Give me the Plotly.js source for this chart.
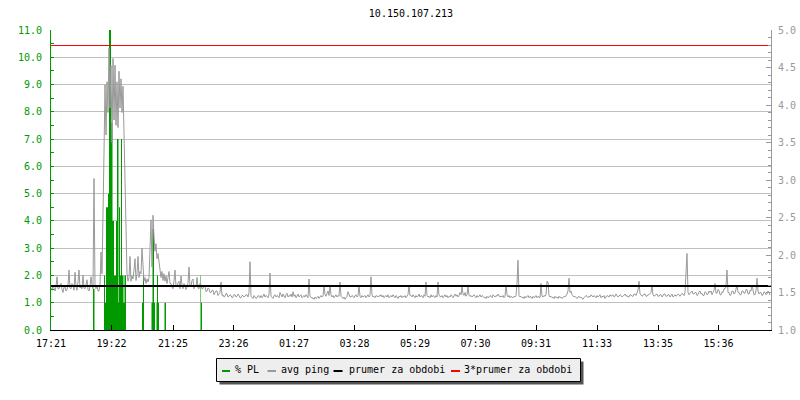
<!DOCTYPE html>
<html>
<head>
<meta charset="utf-8">
<script src="https://cdn.plot.ly/plotly-3.0.1.min.js"></script>
<style>html,body{margin:0;padding:0;background:#fff;}#chart{width:800px;height:400px;}</style>
</head>
<body>
<div id="chart"></div>
<script>
// ---- DATA ----
const chartTitle = '10.150.107.213';
// time axis: minutes after 17:21
const tickMinutes = [0, 121, 244, 365, 486, 607, 728, 849, 970, 1092, 1214, 1335];
const tickLabels  = ['17:21','19:22','21:25','23:26','01:27','03:28','05:29','07:30','09:31','11:33','13:35','15:36'];
const rangeMinutes = [0, 1440];

// avg ping (right axis), one value every 2 minutes starting 17:21, one row per hour
const pingStepMin = 2;
const avgPing = [
  1.56,1.53,1.60,1.57,1.52,1.58,1.71,1.55,1.55,1.60,1.62,1.54,1.50,1.57,1.58,1.52,1.54,1.60,1.80,1.56,1.55,1.62,1.60,1.53,1.77,1.58,1.53,1.64,1.80,1.56,
  1.58,1.55,1.73,1.56,1.55,1.60,1.67,1.54,1.52,1.58,1.71,1.60,1.55,3.02,1.60,1.55,1.60,1.52,1.52,1.60,2.04,1.75,2.40,3.36,4.27,3.60,4.31,3.90,4.76,3.96,
  4.53,3.50,4.62,3.80,4.53,3.73,4.31,3.70,4.45,3.96,4.35,3.90,4.25,3.60,2.62,1.96,1.75,1.65,1.70,1.98,1.65,1.72,1.68,1.80,1.95,1.66,1.75,1.98,1.70,1.78,
  1.75,2.09,1.90,1.65,1.70,1.62,1.68,1.64,1.70,2.10,2.47,1.84,2.53,2.25,2.05,2.15,1.95,2.02,1.88,1.84,1.70,1.78,1.66,1.75,1.65,1.72,1.62,1.70,1.78,1.62,
  1.62,1.57,1.55,1.66,1.80,1.58,1.58,1.63,1.65,1.55,1.72,1.60,1.55,1.62,1.60,1.54,1.57,1.63,1.84,1.58,1.58,1.66,1.68,1.55,1.60,1.58,1.70,1.56,1.55,1.62,
  1.60,1.55,1.55,1.60,1.58,1.51,1.52,1.56,1.55,1.50,1.50,1.53,1.53,1.47,1.49,1.52,1.52,1.46,1.48,1.50,1.64,1.46,1.47,1.44,1.45,1.49,1.48,1.44,1.45,1.47,
  1.46,1.43,1.44,1.47,1.47,1.44,1.45,1.48,1.46,1.43,1.43,1.46,1.46,1.44,1.45,1.47,1.47,1.44,1.50,1.91,1.45,1.43,1.42,1.46,1.44,1.42,1.43,1.46,1.45,1.43,
  1.46,1.43,1.45,1.48,1.44,1.46,1.45,1.43,1.47,1.76,1.45,1.44,1.42,1.46,1.47,1.44,1.46,1.45,1.43,1.50,1.46,1.44,1.48,1.45,1.43,1.47,1.49,1.44,1.46,1.45,
  1.48,1.44,1.51,1.45,1.47,1.43,1.46,1.48,1.44,1.45,1.47,1.43,1.45,1.46,1.44,1.47,1.45,1.43,1.68,1.45,1.44,1.42,1.43,1.41,1.44,1.42,1.43,1.45,1.42,1.44,
  1.46,1.44,1.45,1.60,1.47,1.45,1.49,1.52,1.46,1.60,1.47,1.44,1.46,1.43,1.45,1.47,1.44,1.46,1.45,1.64,1.45,1.43,1.42,1.44,1.41,1.43,1.45,1.51,1.46,1.44,
  1.44,1.46,1.45,1.43,1.46,1.47,1.44,1.46,1.60,1.45,1.43,1.46,1.44,1.45,1.46,1.43,1.45,1.47,1.44,1.46,1.71,1.47,1.44,1.45,1.43,1.46,1.45,1.44,1.46,1.45,
  1.47,1.44,1.46,1.43,1.45,1.46,1.44,1.47,1.43,1.45,1.46,1.44,1.47,1.45,1.43,1.46,1.44,1.42,1.45,1.44,1.46,1.43,1.45,1.44,1.46,1.43,1.45,1.47,1.60,1.46,
  1.46,1.44,1.47,1.45,1.43,1.46,1.44,1.45,1.48,1.44,1.46,1.45,1.43,1.47,1.45,1.64,1.46,1.44,1.45,1.43,1.47,1.44,1.46,1.45,1.43,1.46,1.44,1.64,1.46,1.45,
  1.44,1.46,1.43,1.45,1.47,1.44,1.46,1.43,1.45,1.44,1.47,1.45,1.43,1.46,1.48,1.45,1.47,1.44,1.46,1.50,1.47,1.58,1.48,1.46,1.50,1.45,1.47,1.58,1.46,1.45,
  1.46,1.44,1.45,1.47,1.45,1.43,1.46,1.44,1.45,1.47,1.44,1.46,1.45,1.43,1.44,1.42,1.45,1.43,1.44,1.46,1.45,1.43,1.47,1.45,1.44,1.46,1.45,1.48,1.46,1.44,
  1.45,1.44,1.46,1.43,1.45,1.60,1.47,1.44,1.46,1.43,1.45,1.44,1.43,1.45,1.44,1.46,1.62,1.93,1.46,1.44,1.45,1.43,1.44,1.42,1.45,1.43,1.44,1.46,1.43,1.45,
  1.44,1.42,1.45,1.43,1.44,1.46,1.43,1.45,1.44,1.43,1.62,1.45,1.44,1.46,1.45,1.47,1.65,1.64,1.46,1.44,1.45,1.43,1.44,1.42,1.45,1.43,1.44,1.42,1.45,1.43,
  1.44,1.42,1.43,1.45,1.44,1.46,1.48,1.52,1.69,1.50,1.52,1.47,1.46,1.44,1.45,1.43,1.42,1.44,1.45,1.43,1.44,1.42,1.41,1.43,1.44,1.46,1.45,1.43,1.45,1.44,
  1.47,1.45,1.44,1.46,1.45,1.43,1.46,1.44,1.45,1.47,1.43,1.45,1.44,1.46,1.42,1.44,1.46,1.45,1.44,1.47,1.45,1.46,1.47,1.44,1.45,1.48,1.46,1.44,1.45,1.47,
  1.46,1.44,1.45,1.47,1.48,1.45,1.46,1.44,1.44,1.47,1.47,1.45,1.45,1.48,1.48,1.46,1.50,1.53,1.65,1.48,1.47,1.45,1.46,1.48,1.48,1.45,1.45,1.47,1.47,1.49,
  1.50,1.60,1.47,1.45,1.46,1.48,1.48,1.45,1.45,1.47,1.47,1.44,1.46,1.48,1.48,1.45,1.45,1.47,1.47,1.44,1.46,1.48,1.44,1.46,1.47,1.45,1.46,1.48,1.47,1.45,
  1.47,1.49,1.48,1.46,1.50,1.70,2.02,1.50,1.47,1.49,1.51,1.52,1.48,1.48,1.50,1.50,1.46,1.47,1.51,1.52,1.48,1.49,1.46,1.46,1.51,1.50,1.47,1.48,1.52,1.50,
  1.52,1.47,1.50,1.53,1.62,1.49,1.49,1.54,1.53,1.47,1.47,1.51,1.50,1.55,1.55,1.58,1.80,1.50,1.50,1.46,1.47,1.52,1.52,1.48,1.49,1.56,1.60,1.50,1.50,1.47,
  1.47,1.52,1.52,1.49,1.49,1.54,1.54,1.48,1.48,1.53,1.52,1.60,1.50,1.47,1.47,1.52,1.69,1.52,1.48,1.50,1.50,1.46,1.47,1.51,1.50,1.47,1.48,1.52,1.50,1.47
];

// packet loss % (left axis), step values: value holds from this minute to the next
const plMinutes = [0, 84, 87, 106, 108, 110, 114, 116, 120, 123, 126, 130, 132, 135, 136, 138, 140, 142, 145, 147, 150,
                   182, 184, 186, 201, 203, 206, 208, 211, 212, 214, 216, 227, 230, 299, 300, 302, 1440];
const plValues  = [0, 1.5, 0, 2, 1, 4.5, 5, 11, 7.6, 4, 2, 4, 7, 1, 4.5, 2, 7, 2, 1, 2, 0,
                   1, 2, 0, 1, 3.7, 1, 0, 1, 2, 1, 0, 1, 0, 2, 1, 0, 0];

const prumer = 1.587;      // average for period (right axis)
const prumer3 = 4.793;     // 3*average line as drawn (right axis)

const seriesNames = ['% PL', 'avg ping', 'prumer za obdobi', '3*prumer za obdobi'];
const seriesColors = ['#009900', '#999999', '#000000', '#ff0000'];

// ---- BUILD ----
const pingMinutes = avgPing.map((_, i) => i * pingStepMin);

const traces = [
  { x: plMinutes, y: plValues, type: 'scatter', mode: 'lines', name: seriesNames[0],
    line: { shape: 'hv', width: 0, color: seriesColors[0] }, fill: 'tozeroy', fillcolor: seriesColors[0],
    yaxis: 'y', hoverinfo: 'skip' },
  { x: pingMinutes, y: avgPing, type: 'scatter', mode: 'lines', name: seriesNames[1],
    line: { width: 1, color: seriesColors[1] }, yaxis: 'y2', hoverinfo: 'skip' },
  { x: rangeMinutes, y: [prumer, prumer], type: 'scatter', mode: 'lines', name: seriesNames[2],
    line: { width: 2, color: seriesColors[2] }, yaxis: 'y2', hoverinfo: 'skip' },
  { x: rangeMinutes, y: [prumer3, prumer3], type: 'scatter', mode: 'lines', name: seriesNames[3],
    line: { width: 1, color: seriesColors[3] }, yaxis: 'y2', hoverinfo: 'skip' }
];

// plot area in pixels
const PL = 51, PR = 771, PT = 30, PB = 330;
const px = v => (v - PL) / (PR - PL);
const py = v => (PB - v) / (PB - PT);

const font = 'DejaVu Sans Mono, monospace';
const shapes = [
  { type: 'rect', xref: 'paper', yref: 'paper', x0: px(219.5), x1: px(583.5), y0: py(361.5), y1: py(384.5),
    fillcolor: '#555555', line: { width: 0 } },
  { type: 'rect', xref: 'paper', yref: 'paper', x0: px(216.5), x1: px(580.5), y0: py(358.5), y1: py(381.5),
    fillcolor: '#eeeeee', line: { width: 1, color: '#000' } }
];
const legendSym = [[222, 230], [267.5, 276], [333.5, 342.5], [451, 460]];
const legendText = [235, 281, 348.5, 463.5];
const annotations = [];
for (let i = 0; i < 4; i++) {
  shapes.push({ type: 'line', xref: 'paper', yref: 'paper', x0: px(legendSym[i][0]), x1: px(legendSym[i][1]),
    y0: py(371), y1: py(371), line: { width: 2, color: seriesColors[i] } });
  annotations.push({ xref: 'paper', yref: 'paper', x: px(legendText[i] - 1), y: py(369.5), xanchor: 'left', yanchor: 'middle',
    text: seriesNames[i], showarrow: false, font: { family: font, size: 10, color: '#000' }, borderpad: 0 });
}

const layout = {
  width: 800, height: 400,
  margin: { l: PL, r: 800 - PR, t: PT, b: 400 - PB, pad: 0 },
  paper_bgcolor: '#ffffff', plot_bgcolor: '#ffffff',
  showlegend: false,
  font: { family: font, size: 10, color: '#000' },
  title: { text: chartTitle, x: 0.5, xref: 'paper', xanchor: 'center', y: 1 - 13 / 400, yref: 'container', yanchor: 'middle',
    font: { family: font, size: 10, color: '#000' } },
  xaxis: {
    range: rangeMinutes, tickmode: 'array', tickvals: tickMinutes, ticktext: tickLabels,
    ticks: 'inside', ticklen: 5, tickwidth: 1, tickcolor: '#000',
    showline: true, linecolor: '#000', linewidth: 1, showgrid: false, zeroline: false,
    tickfont: { family: font, size: 10, color: '#000' }, ticklabelstandoff: 4, fixedrange: true
  },
  yaxis: {
    range: [0, 11], tickmode: 'linear', tick0: 0, dtick: 1, tickformat: '.1f',
    ticks: 'inside', ticklen: 3, tickcolor: '#009900',
    showline: true, linecolor: '#009900', linewidth: 1,
    showgrid: true, gridcolor: '#c0c0c0', gridwidth: 1, zeroline: false,
    tickfont: { family: font, size: 10, color: '#009900' }, ticklabelstandoff: 6,
    minor: { ticks: 'inside', tick0: 0, dtick: 0.5, ticklen: 3, tickcolor: '#009900', showgrid: false },
    fixedrange: true
  },
  yaxis2: {
    range: [1, 5], overlaying: 'y', side: 'right', tickmode: 'linear', tick0: 1, dtick: 0.5, tickformat: '.1f',
    ticks: 'inside', ticklen: 5, tickcolor: '#999999',
    showline: true, linecolor: '#999999', linewidth: 1, showgrid: false, zeroline: false,
    tickfont: { family: font, size: 10, color: '#999999' }, ticklabelstandoff: 4,
    minor: { ticks: 'inside', tick0: 1, dtick: 0.1, ticklen: 3, tickcolor: '#999999', showgrid: false },
    fixedrange: true
  },
  shapes: shapes,
  annotations: annotations
};

Plotly.newPlot('chart', traces, layout, { staticPlot: true, displayModeBar: false });
</script>
</body>
</html>
